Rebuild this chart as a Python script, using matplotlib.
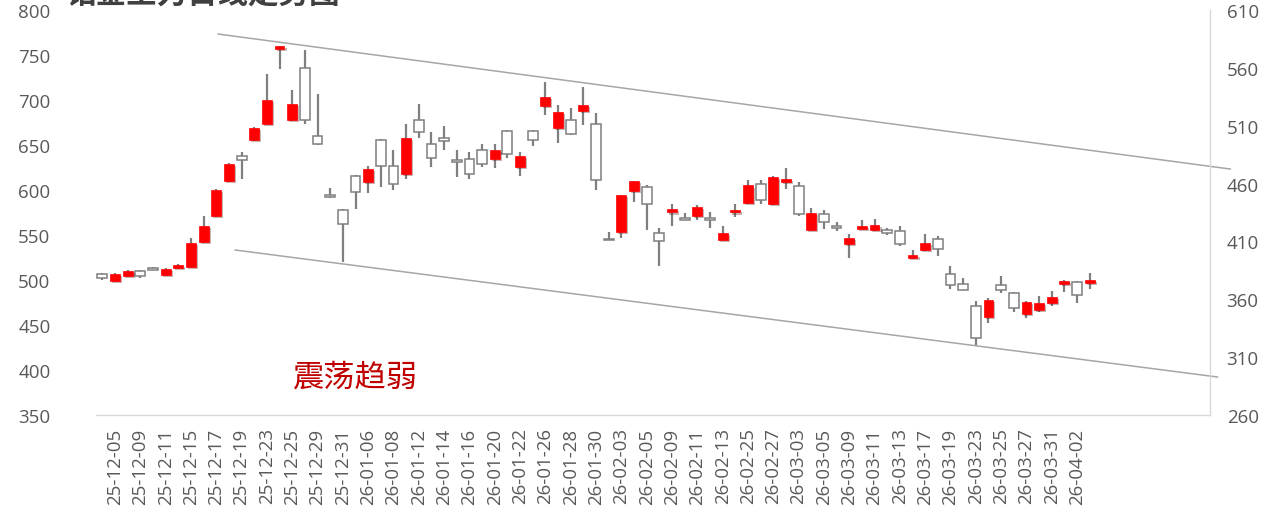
import matplotlib
matplotlib.use("Agg")
import matplotlib.pyplot as plt
import matplotlib.patheffects as pe

# trading days (yy-mm-dd), one candle each
dates = [
    "25-12-04", "25-12-05", "25-12-08", "25-12-09", "25-12-10", "25-12-11", "25-12-12",
    "25-12-15", "25-12-16", "25-12-17", "25-12-18", "25-12-19", "25-12-22", "25-12-23",
    "25-12-24", "25-12-25", "25-12-26", "25-12-29", "25-12-30", "25-12-31",
    "26-01-05", "26-01-06", "26-01-07", "26-01-08", "26-01-09", "26-01-12", "26-01-13",
    "26-01-14", "26-01-15", "26-01-16", "26-01-19", "26-01-20", "26-01-21", "26-01-22",
    "26-01-23", "26-01-26", "26-01-27", "26-01-28", "26-01-29", "26-01-30",
    "26-02-02", "26-02-03", "26-02-04", "26-02-05", "26-02-06", "26-02-09", "26-02-10",
    "26-02-11", "26-02-12", "26-02-13", "26-02-24", "26-02-25", "26-02-26", "26-02-27",
    "26-03-02", "26-03-03", "26-03-04", "26-03-05", "26-03-06", "26-03-09", "26-03-10",
    "26-03-11", "26-03-12", "26-03-13", "26-03-16", "26-03-17", "26-03-18", "26-03-19",
    "26-03-20", "26-03-23", "26-03-24", "26-03-25", "26-03-26", "26-03-27", "26-03-30",
    "26-03-31", "26-04-01", "26-04-02", "26-04-03",
]

opens = [
    506.5, 499, 504, 510, 513, 506, 513, 515, 542, 571, 610, 638, 656, 673, 757, 678,
    736, 660, 594, 578, 616, 609, 656, 627, 618, 678, 651, 658, 633, 634, 645, 634,
    665, 626, 665, 693, 669, 678, 688, 673, 546, 553, 599, 603, 552, 575, 569, 571,
    569, 544, 575, 586, 607, 584, 609, 605, 556, 573, 560, 540, 557, 556, 556, 554,
    524, 533, 545, 507, 496, 471, 459, 494, 486, 462, 467, 475, 496, 498, 497,
]
closes = [
    502, 507, 510, 504, 511.5, 512, 517, 541, 560, 600, 629, 633, 669, 700, 760, 696,
    678, 651, 592, 562, 598, 623, 627, 607, 658, 664, 636, 654, 631.5, 618, 629, 645,
    640, 638, 656, 703, 687, 662, 694, 611, 544.5, 594, 610, 584, 543, 579, 567, 581,
    567, 552, 578, 605, 589, 614, 612, 573, 574, 565, 558, 547, 560, 561, 552, 540,
    528, 541, 534, 494, 489, 436, 478, 489, 469, 476, 474, 481, 499, 483, 500,
]
highs = [
    508, 508, 511, 511, 515, 513, 518, 547, 571, 601, 630, 642, 670, 729, 760, 711,
    756, 707, 602, 579, 617, 627, 657, 644, 673, 696, 664, 671, 644, 642, 651, 651,
    667, 642, 667, 720, 694, 691, 715, 686, 553, 595, 610, 606, 558, 584, 575, 583,
    576, 560, 584, 611, 611, 616, 624, 609, 580, 578, 564, 551, 567, 568, 558, 560,
    533, 551, 549, 516, 502, 477, 480, 504, 487, 477, 482, 488, 500, 499, 508,
]
lows = [
    500.5, 498, 503, 502, 511, 505, 512, 514, 541, 570, 609, 612, 655, 672, 734, 677,
    673, 650, 591, 520, 579, 597, 603, 600, 612, 658, 626, 645, 614, 612, 626, 624,
    636, 616, 649, 683, 652, 661, 672, 600, 544, 547, 587, 556, 516, 560, 567, 567,
    558, 543, 570, 585, 584, 583, 601, 571, 555, 557, 554, 525, 557, 555, 550, 538,
    523, 532, 527, 490, 489, 428, 452, 486, 465, 458, 465, 471, 487, 474, 490,
]

left_ticks = [350, 400, 450, 500, 550, 600, 650, 700, 750, 800]
right_ticks = [260, 310, 360, 410, 460, 510, 560, 610]

# channel lines (index, price on left axis)
upper_line_x = [9.15, 89.1]
upper_line_y = [773.3, 623.3]
lower_line_x = [10.5, 88.1]
lower_line_y = [533.3, 392.2]

n_slots = 88  # category axis has empty slots on the right
tick_grey = "#595959"
candle_grey = "#7F7F7F"

fig = plt.figure(figsize=(12.69, 5.10), dpi=100)
ax = fig.add_axes([96 / 1269, 1 - 416 / 510, (1210 - 96) / 1269, (416 - 11) / 510])
ax2 = ax.twinx()

x = list(range(len(dates)))

# wicks
ax.vlines(x, lows, highs, color=candle_grey, linewidth=1.6, zorder=2)

# bodies: red = up, white = down
up_x, up_bot, up_h = [], [], []
dn_x, dn_bot, dn_h = [], [], []
for i, (o, c) in enumerate(zip(opens, closes)):
    h = max(abs(c - o), 1.2)
    if c > o:
        up_x.append(i)
        up_bot.append(o)
        up_h.append(h)
    else:
        dn_x.append(i)
        dn_bot.append(c)
        dn_h.append(h)

ax.bar(dn_x, dn_h, bottom=dn_bot, width=0.78, color="white",
       edgecolor=candle_grey, linewidth=1.1, zorder=3)
red_bars = ax.bar(up_x, up_h, bottom=up_bot, width=0.78, color="#FF0000",
                  edgecolor="#FF0000", linewidth=0.5, zorder=3)
for b in red_bars:
    b.set_path_effects([pe.SimplePatchShadow(offset=(1.5, -1.5), alpha=0.3), pe.Normal()])

# trend channel
ax.plot(upper_line_x, upper_line_y, color="#A6A6A6", linewidth=1.1, clip_on=False, zorder=1)
ax.plot(lower_line_x, lower_line_y, color="#A6A6A6", linewidth=1.1, clip_on=False, zorder=1)

ax.set_xlim(-0.5, n_slots - 0.5)
ax.set_ylim(350, 800)
ax2.set_ylim(260, 610)

ax.set_yticks(left_ticks)
ax2.set_yticks(right_ticks)
ax.set_xticks(x[1::2])
ax.set_xticklabels(dates[1::2], rotation=90)

for a in (ax, ax2):
    for s in a.spines.values():
        s.set_visible(False)
    a.tick_params(length=0, colors=tick_grey, labelsize=13.5)
    for lab in a.get_xticklabels() + a.get_yticklabels():
        lab.set_fontfamily(["Open Sans", "DejaVu Sans"])

ax.spines["bottom"].set_visible(True)
ax.spines["bottom"].set_color("#D9D9D9")
ax.spines["bottom"].set_linewidth(1.0)
ax2.spines["right"].set_visible(True)
ax2.spines["right"].set_color("#D9D9D9")
ax2.spines["right"].set_linewidth(1.0)
ax.tick_params(axis="x", pad=9)
ax.tick_params(axis="y", pad=56)
ax2.tick_params(axis="y", pad=12)
for lab in ax.get_yticklabels():
    lab.set_horizontalalignment("left")

ax.text(0.177, 0.095, "震荡趋弱", transform=ax.transAxes, color="#C00000",
        fontsize=22.5, family=["Noto Sans CJK SC", "DejaVu Sans"], va="center")

fig.text(65 / 1269, 1 + 6 / 510, "铂金主力日线走势图", color="#404040", fontsize=22,
         fontweight="bold", family=["Noto Sans CJK SC", "DejaVu Sans"], va="center")

fig.savefig("out.png", dpi=100)
